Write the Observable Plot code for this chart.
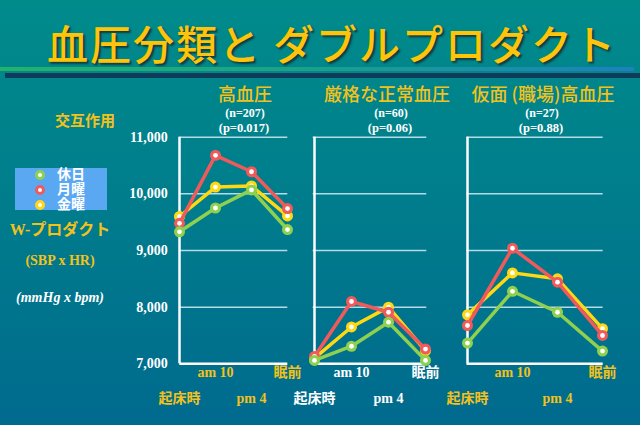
<!DOCTYPE html>
<html>
<head>
<meta charset="utf-8">
<script src="https://cdn.jsdelivr.net/npm/d3@7"></script>
<script src="https://cdn.jsdelivr.net/npm/@observablehq/plot@0.6"></script>
<style>
  html, body { margin: 0; padding: 0; }
  #chart {
    position: relative; width: 640px; height: 425px; overflow: hidden;
    background: linear-gradient(to bottom, #008b8b 0%, #007c8c 50%, #006a8e 100%);
    font-family: "Liberation Serif", "Noto Sans CJK JP", serif;
  }
  .abs { position: absolute; white-space: nowrap; line-height: 1; }
  .ctr { transform: translate(-50%, -50%); }
  #chart svg { position: absolute; left: 0; top: 0; }
</style>
</head>
<body>
<div id="chart"></div>
<script>
// ---- data ----
const times = ["起床時", "am 10", "pm 4", "眠前"];
const seriesNames = ["休日", "月曜", "金曜"];
const panelTitles = ["高血圧", "厳格な正常血圧", "仮面 (職場)高血圧"];
const panelN = ["(n=207)", "(n=60)", "(n=27)"];
const panelP = ["(p=0.017)", "(p=0.06)", "(p=0.88)"];
const yTicks = [7000, 8000, 9000, 10000, 11000];

// 高血圧
const hyperHoliday = [9330, 9750, 10070, 9370];
const hyperMonday  = [9480, 10680, 10390, 9740];
const hyperFriday  = [9600, 10120, 10140, 9610];
// 厳格な正常血圧
const normalHoliday = [7060, 7310, 7735, 7060];
const normalMonday  = [7130, 8100, 7910, 7260];
const normalFriday  = [7100, 7650, 8000, 7230];
// 仮面 (職場)高血圧
const maskedHoliday = [7365, 8280, 7910, 7225];
const maskedMonday  = [7676, 9040, 8440, 7500];
const maskedFriday  = [7865, 8605, 8500, 7620];

// ---- styling ----
const colors = {"休日": "#8fd14f", "月曜": "#f05a5a", "金曜": "#ffd814"};
const yellow = "#f2c21b";
const chart = document.getElementById("chart");

function addText(text, x, y, css, center = true) {
  const d = document.createElement("div");
  d.className = "abs" + (center ? " ctr" : "");
  d.style.left = x + "px"; d.style.top = y + "px";
  d.textContent = text;
  Object.assign(d.style, css);
  chart.appendChild(d);
  return d;
}

// title & decorative rules
addText("血圧分類と ダブルプロダクト", 332, 42, {
  fontFamily: '"Noto Sans CJK JP", sans-serif', fontSize: "41px", fontWeight: "500",
  color: "#ffc40a", letterSpacing: "2px", textShadow: "2px 2px 2px rgba(20,40,40,0.8)"
});
const r1 = document.createElement("div");
r1.className = "abs";
Object.assign(r1.style, {left: "0px", top: "67px", width: "634px", height: "4px",
  background: "linear-gradient(to right, #22b36a, #1aa08a 50%, #1f7fc0)"});
chart.appendChild(r1);
const r2 = document.createElement("div");
r2.className = "abs";
Object.assign(r2.style, {left: "5px", top: "73px", width: "635px", height: "5px", background: "#0d3b5a"});
chart.appendChild(r2);

// left labels
const bold = {fontWeight: "bold"};
addText("交互作用", 85, 121, {...bold, color: yellow, fontSize: "15px"});
const box = document.createElement("div");
box.className = "abs";
Object.assign(box.style, {left: "15px", top: "168px", width: "92px", height: "42px", background: "#5aa8f2"});
chart.appendChild(box);
seriesNames.forEach((s, i) => {
  const cy = 175 + i * 15;
  const dot = document.createElement("div");
  dot.className = "abs";
  Object.assign(dot.style, {left: (40 - 5) + "px", top: (cy - 5) + "px", width: "4px", height: "4px",
    borderRadius: "50%", background: "#fff", border: "3px solid " + colors[s]});
  chart.appendChild(dot);
  addText(s, 57, cy - 7, {color: "#fff", fontSize: "14px", fontWeight: "bold"}, false);
});
addText("W-プロダクト", 60, 230, {...bold, color: yellow, fontSize: "16px"});
addText("(SBP x HR)", 60, 261, {...bold, color: yellow, fontSize: "14px"});
addText("(mmHg x bpm)", 60, 298, {...bold, color: "#fff", fontSize: "14px", fontStyle: "italic"});

// panels
const panels = [
  {left: 179.3, right: 287.3, labelColor: yellow, yAxis: true,
   series: {"休日": hyperHoliday, "月曜": hyperMonday, "金曜": hyperFriday}, tx: 245},
  {left: 312.7, right: 426.3, labelColor: "#ffffff", yAxis: false,
   series: {"休日": normalHoliday, "月曜": normalMonday, "金曜": normalFriday}, tx: 387},
  {left: 466.5, right: 602.7, labelColor: yellow, yAxis: false,
   series: {"休日": maskedHoliday, "月曜": maskedMonday, "金曜": maskedFriday}, tx: 543}
];
const nx = [245, 391, 542];
const fmt = d3.format(",");
const drawOrder = ["金曜", "月曜", "休日"];

panels.forEach((p, i) => {
  addText(panelTitles[i], p.tx, 93, {fontFamily: '"Noto Sans CJK JP", sans-serif', fontWeight: "500",
    color: yellow, fontSize: "18px"});
  addText(panelN[i], nx[i], 113, {...bold, color: "#fff", fontSize: "12px"});
  addText(panelP[i], nx[i] - 1, 128, {...bold, color: "#fff", fontSize: "12.5px"});

  const marks = [
    Plot.ruleY(yTicks.slice(1), {stroke: "#b5dbe6", strokeWidth: 1.5}),
    Plot.ruleY([yTicks[0]], {stroke: "#ffffff", strokeWidth: 2.5}),
    Plot.ruleX([times[0]], {y1: yTicks[0], y2: yTicks[yTicks.length - 1], stroke: "#ffffff", strokeWidth: 2.5}),
    Plot.text([times[1], times[3]], {x: d => d, frameAnchor: "bottom", dy: 13, text: d => d,
      fill: p.labelColor, fontSize: 14, fontWeight: "bold"}),
    Plot.text([times[0], times[2]], {x: d => d, frameAnchor: "bottom", dy: 39, text: d => d,
      fill: p.labelColor, fontSize: 14, fontWeight: "bold"})
  ];
  if (p.yAxis) {
    marks.push(Plot.text(yTicks, {y: d => d, frameAnchor: "left", dx: -12, textAnchor: "end",
      text: d => fmt(d), fill: "#ffffff", fontSize: 14, fontWeight: "bold"}));
  }
  drawOrder.forEach(s => {
    const rows = times.map((t, j) => ({time: t, value: p.series[s][j]}));
    marks.push(Plot.line(rows, {x: "time", y: "value", stroke: colors[s], strokeWidth: 3.5}));
    marks.push(Plot.dot(rows, {x: "time", y: "value", r: 5.5, fill: colors[s], stroke: "none"}));
    marks.push(Plot.dot(rows, {x: "time", y: "value", r: 2.4, fill: "#ffffff", stroke: "none"}));
  });

  const svg = Plot.plot({
    width: 640, height: 425,
    marginLeft: p.left, marginRight: 640 - p.right,
    marginTop: 136.7, marginBottom: 425 - 363.3,
    x: {type: "point", domain: times, padding: 0, axis: null},
    y: {domain: [7000, 11000], axis: null},
    style: {background: "transparent", overflow: "visible",
      fontFamily: '"Liberation Serif", "Noto Sans CJK JP", serif'},
    marks
  });
  chart.appendChild(svg);
});
</script>
</body>
</html>
